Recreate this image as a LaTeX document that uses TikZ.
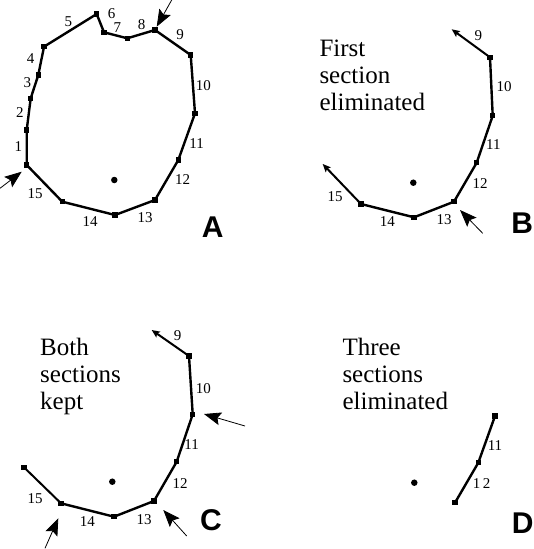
\documentclass[tikz,border=0pt]{standalone}
\usepackage{fontspec}
\setmainfont{Liberation Serif}
\newfontfamily\lettfont{Liberation Sans}
\usetikzlibrary{arrows.meta}
\tikzset{
  seg/.style={line width=2.4pt, line join=round},
  endarrow/.style={line width=2pt, -{Stealth[length=8pt,width=7pt,inset=1.5pt]}},
  vtx/.style={rectangle, fill=black, minimum size=5.5pt, inner sep=0pt},
  ctr/.style={circle, fill=black, minimum size=6.5pt, inner sep=0pt},
  num/.style={font=\fontsize{15}{16}\selectfont, inner sep=0pt},
  ptr/.style={line width=0.8pt, -{Stealth[length=17pt,width=13pt,inset=3pt]}},
  caption/.style={font=\fontsize{25}{27}\selectfont, align=left, anchor=north west, inner sep=0pt},
  panel/.style={font=\lettfont\bfseries\fontsize{30}{30}\selectfont, inner sep=0pt}
}
\begin{document}
\begin{tikzpicture}[x=1pt,y=-1pt]
\useasboundingbox (0,0) rectangle (533,549);
% ---------------- Panel A ----------------
\node[vtx] (a0) at (26.7,165) {};
\node[vtx] (a1) at (26.7,130) {};
\node[vtx] (a2) at (30.7,98.3) {};
\node[vtx] (a3) at (38.3,75) {};
\node[vtx] (a4) at (44,46.7) {};
\node[vtx] (a5) at (96.7,14) {};
\node[vtx] (a6) at (104,32.3) {};
\node[vtx] (a7) at (127.3,38.3) {};
\node[vtx] (a8) at (155,30) {};
\node[vtx] (a9) at (190.7,55) {};
\node[vtx] (a10) at (195,113.3) {};
\node[vtx] (a11) at (178.3,160) {};
\node[vtx] (a12) at (155,200) {};
\node[vtx] (a13) at (115,215) {};
\node[vtx] (a14) at (62.3,201.7) {};
\draw[seg] (a0.center) -- (a1.center) -- (a2.center) -- (a3.center) -- (a4.center)
  -- (a5.center) -- (a6.center) -- (a7.center) -- (a8.center) -- (a9.center)
  -- (a10.center) -- (a11.center) -- (a12.center) -- (a13.center) -- (a14.center) -- cycle;
\node[ctr] (ac) at (114.3,180) {};
\node[num] (al1) at (18.3,146.7) {1};
\node[num] (al2) at (20,112.7) {2};
\node[num] (al3) at (27.3,82.7) {3};
\node[num] (al4) at (30.7,58.3) {4};
\node[num] (al5) at (68.3,21.7) {5};
\node[num] (al6) at (111.7,14) {6};
\node[num] (al7) at (117.3,27.3) {7};
\node[num] (al8) at (141.7,25) {8};
\node[num] (al9) at (180,35) {9};
\node[num] (al10) at (203.3,86) {10};
\node[num] (al11) at (196.7,143.3) {11};
\node[num] (al12) at (182.7,180) {12};
\node[num] (al13) at (145,217.3) {13};
\node[num] (al14) at (90,221.7) {14};
\node[num] (al15) at (35,193.3) {15};
\coordinate (atail1) at (171.7,0);
\coordinate (atip1) at (156.7,26.7);
\draw[ptr] (atail1) -- (atip1);
\coordinate (atail2) at (0,188.3);
\coordinate (atip2) at (21.7,171.7);
\draw[ptr] (atail2) -- (atip2);
\node[panel] (la) at (212.7,227.3) {A};
% ---------------- Panel B ----------------
\coordinate (be9) at (451.7,29.3);
\node[vtx] (b9) at (490,57.3) {};
\node[vtx] (b10) at (492.7,115.7) {};
\node[vtx] (b11) at (476.7,162.7) {};
\node[vtx] (b12) at (454,201.7) {};
\node[vtx] (b13) at (414,217.3) {};
\node[vtx] (b14) at (361,204) {};
\coordinate (be15) at (322.7,164);
\draw[seg] (b9.center) -- (b10.center) -- (b11.center) -- (b12.center) -- (b13.center) -- (b14.center);
\draw[endarrow] (b9.center) -- (be9);
\draw[endarrow] (b14.center) -- (be15);
\node[ctr] (bc) at (413.3,182.7) {};
\node[num] (bl9) at (478.3,36) {9};
\node[num] (bl10) at (504,86.7) {10};
\node[num] (bl11) at (493.3,145) {11};
\node[num] (bl12) at (480,183.3) {12};
\node[num] (bl13) at (444,219.3) {13};
\node[num] (bl14) at (387.3,221.7) {14};
\node[num] (bl15) at (335,196.7) {15};
\coordinate (btail) at (482.7,233.3);
\coordinate (btip) at (460,210);
\draw[ptr] (btail) -- (btip);
\node[caption] (bt) at (319.3,39.8) {First\\section\\eliminated};
\node[panel] (lb) at (522.3,223.3) {B};
% ---------------- Panel C ----------------
\coordinate (ce9) at (151.7,330);
\node[vtx] (c9) at (189,356) {};
\node[vtx] (c10) at (192.7,414.3) {};
\node[vtx] (c11) at (176.7,461.7) {};
\node[vtx] (c12) at (154,501) {};
\node[vtx] (c13) at (114,516.7) {};
\node[vtx] (c14) at (61,503.3) {};
\node[vtx] (c15) at (24,467.3) {};
\draw[seg] (c9.center) -- (c10.center) -- (c11.center) -- (c12.center) -- (c13.center) -- (c14.center);
\draw[line width=2pt] (c14.center) -- (c15.center);
\draw[endarrow] (c9.center) -- (ce9);
\node[ctr] (cc) at (112.3,481.7) {};
\node[num] (cl9) at (177.7,336) {9};
\node[num] (cl10) at (203.3,388.3) {10};
\node[num] (cl11) at (191.7,445) {11};
\node[num] (cl12) at (180,483.3) {12};
\node[num] (cl13) at (144,519.3) {13};
\node[num] (cl14) at (87.3,521.7) {14};
\node[num] (cl15) at (35,498.3) {15};
\coordinate (ctail1) at (245,426);
\coordinate (ctip1) at (204,414);
\draw[ptr] (ctail1) -- (ctip1);
\coordinate (ctail2) at (186.7,536);
\coordinate (ctip2) at (163.3,510);
\draw[ptr] (ctail2) -- (ctip2);
\coordinate (ctail3) at (45,548.3);
\coordinate (ctip3) at (58.3,518.3);
\draw[ptr] (ctail3) -- (ctip3);
\node[caption] (ct) at (40,338.3) {Both\\sections\\kept};
\node[panel] (lc) at (211,520) {C};
% ---------------- Panel D ----------------
\node[vtx] (d10) at (495,416) {};
\node[vtx] (d11) at (478.3,462.7) {};
\node[vtx] (d12) at (455,502.7) {};
\draw[seg] (d10.center) -- (d11.center) -- (d12.center);
\node[ctr] (dc) at (414.3,482.7) {};
\node[num] (dl11) at (495,446) {11};
\node[num] (dl12) at (481.7,484) {1\,2};
\node[caption] (dt) at (342.3,338.3) {Three\\sections\\eliminated};
\node[panel] (ld) at (522.7,523.3) {D};
\end{tikzpicture}
\end{document}
